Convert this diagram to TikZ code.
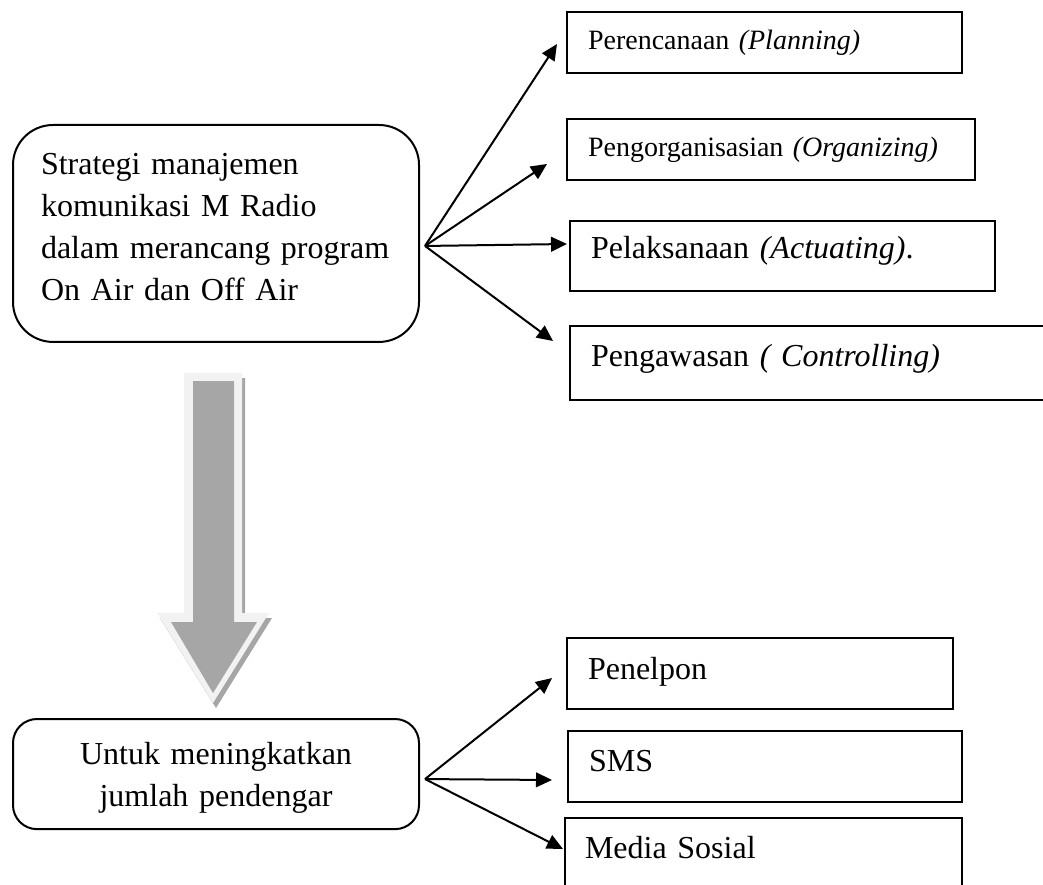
\documentclass[tikz,border=0pt]{standalone}
\usepackage{fontspec}
\setmainfont{Liberation Serif}
\usetikzlibrary{arrows.meta}
\begin{document}
\begin{tikzpicture}[x=0.375pt,y=-0.375pt,line width=0.75pt]
	\tikzstyle{box}=[draw,anchor=north west,inner xsep=7.875pt,inner ysep=0pt,align=left,font=\fontsize{12}{15.75}\selectfont]
	\tikzstyle{small}=[font=\fontsize{10.5}{13}\selectfont]
	\tikzstyle{mainbox}=[box,rounded corners=15pt,inner xsep=10.5pt,text width=131.25pt]
	\tikzstyle{arr}=[-{Triangle[length=6pt,width=5.5pt]}]
	\useasboundingbox (0,0) rectangle (1043,884);
	% big arrow down
	\fill[black!35,shift={(3,5)}] (184,373) -- (242,373) -- (242,613) -- (269,613) -- (213,703) -- (157,613) -- (184,613) -- cycle;
	\fill[black!5] (184,373) -- (242,373) -- (242,613) -- (269,613) -- (213,703) -- (157,613) -- (184,613) -- cycle;
	\fill[black!35] (193,381) -- (234,381) -- (234,622) -- (257,622) -- (213,693) -- (171,622) -- (193,622) -- cycle;
	% left boxes
	\node[mainbox,text height=18.75pt,text depth=62.6pt] (strat) at (12,124) {Strategi manajemen\\komunikasi M Radio\\dalam merancang program\\On Air dan Off Air};
	\node[mainbox,rounded corners=9pt,align=center,text height=16.9pt,text depth=24.4pt] (goal) at (12,718) {Untuk meningkatkan\\jumlah pendengar};
	% right boxes
	\node[box,small,text width=132.4pt,text height=13.9pt,text depth=9pt] (plan) at (566,11) {Perencanaan \textit{(Planning)}};
	\node[box,small,text width=137.25pt,text height=14.25pt,text depth=8.6pt] (org) at (566,118) {Pengorganisasian \textit{(Organizing)}};
	\node[box,text width=143.6pt,text height=14.25pt,text depth=12pt] (act) at (569,220) {Pelaksanaan \textit{(Actuating)}.};
	\node[box,text width=164.25pt,text height=15pt,text depth=12.75pt] (ctrl) at (569,325) {Pengawasan \textit{( Controlling)}};
	\node[box,text width=129pt,text height=15.4pt,text depth=11.25pt] (call) at (566,637) {Penelpon};
	\node[box,text width=132pt,text height=15pt,text depth=11.6pt] (sms) at (567,730) {SMS};
	\node[box,inner xsep=7.5pt,text width=133.9pt,text height=15pt,text depth=15pt] (medsos) at (564,817) {Media Sosial};
	% arrows
	\draw[arr] ([shift={(5,12.5)}]strat.east) -- ([shift={(-9,1.5)}]plan.west);
	\draw[arr] ([shift={(5,12.5)}]strat.east) -- ([shift={(-19,14.5)}]org.west);
	\draw[arr] ([shift={(5,12.5)}]strat.east) -- ([shift={(-2,-12)}]act.west);
	\draw[arr] ([shift={(5,12.5)}]strat.east) -- ([shift={(-16,-22)}]ctrl.west);
	\draw[arr] ([shift={(5,5)}]goal.east) -- ([shift={(-14,4.5)}]call.west);
	\draw[arr] ([shift={(5,5)}]goal.east) -- ([shift={(-15,13.5)}]sms.west);
	\draw[arr] ([shift={(5,5)}]goal.east) -- ([shift={(-1,-9)}]medsos.west);
\end{tikzpicture}
\end{document}
